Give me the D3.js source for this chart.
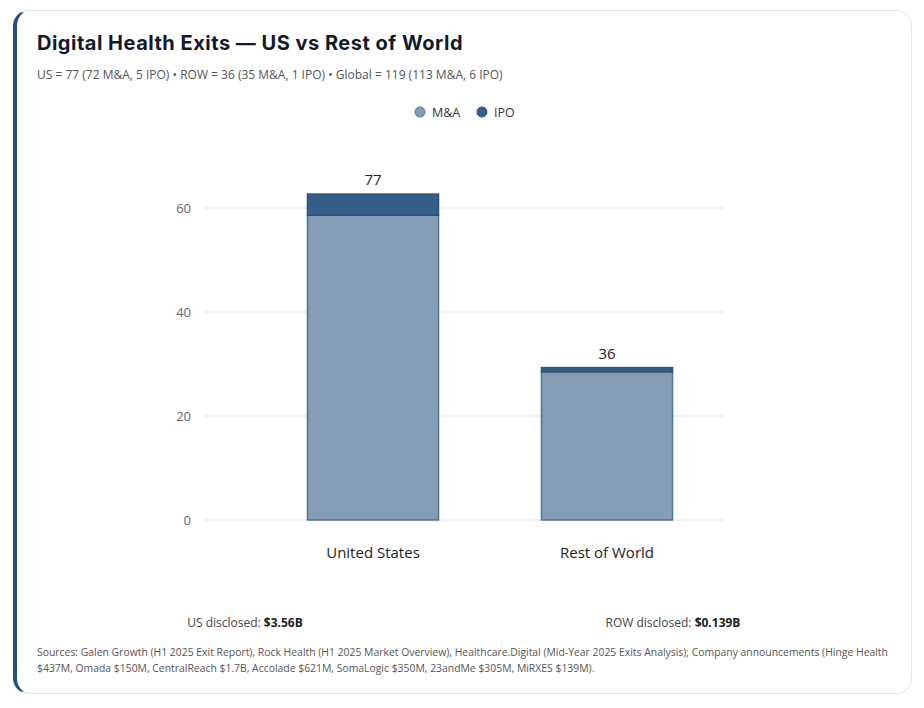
<!DOCTYPE html>
<html>
<head>
<meta charset="utf-8">
<script src="https://cdn.jsdelivr.net/npm/d3@7"></script>
<style>
  html, body { margin: 0; padding: 0; background: #fff; }
  body { width: 924px; height: 708px; position: relative; overflow: hidden; font-family: "Open Sans", sans-serif; }
  .card {
    position: absolute; left: 13px; top: 10px; width: 894px; height: 682px;
    border: 1px solid #e4e4e4; border-left: 4px solid #24507d; border-radius: 16px;
    background: #fff;
  }
  svg { position: absolute; left: 0; top: 0; }
</style>
</head>
<body>
<div class="card"></div>
<div id="viz"></div>
<script>
// chart data
const regions = ['United States', 'Rest of World'];
const mna = [72, 35];
const ipo = [5, 1];
const yTicks = [0, 20, 40, 60];
const series = ['M&A', 'IPO'];
const disclosed = [['US disclosed: ', '$3.56B'], ['ROW disclosed: ', '$0.139B']];

// bars were still growing when the reference was captured
const GROW = 0.814;

const COLORS = {
  'M&A': { fill: '#859eb5', stroke: '#4d7399' },
  'IPO': { fill: '#355f88', stroke: '#2b537c' }
};

const W = 924, H = 708;
const plot = { left: 256, right: 724, top: 156, bottom: 520, gridLeft: 204 };

const svg = d3.select('#viz').append('svg').attr('width', W).attr('height', H);

// header
svg.append('text')
  .attr('x', 37).attr('y', 50)
  .attr('font-family', 'Inter, sans-serif').attr('font-weight', 700).attr('font-size', 20)
  .attr('letter-spacing', 0.5)
  .attr('fill', '#111a2c')
  .text('Digital Health Exits — US vs Rest of World');

svg.append('text')
  .attr('x', 37).attr('y', 79)
  .attr('font-size', 12).attr('fill', '#555')
  .text('US = 77 (72 M&A, 5 IPO) • ROW = 36 (35 M&A, 1 IPO) • Global = 119 (113 M&A, 6 IPO)');

// legend
const legend = svg.append('g').selectAll('g')
  .data(series).enter().append('g')
  .attr('transform', (d, i) => `translate(${420 + i * 62}, 112)`);
legend.append('circle').attr('r', 5)
  .attr('fill', d => COLORS[d].fill).attr('stroke', d => COLORS[d].stroke).attr('stroke-width', 1);
legend.append('text').attr('x', 12).attr('y', 4.5)
  .attr('font-size', 12.5).attr('fill', '#333').text(d => d);

// scales
const x = d3.scaleBand().domain(regions).range([plot.left, plot.right]).paddingInner(0.44).paddingOuter(0.22);
const y = d3.scaleLinear().domain([0, 70]).range([plot.bottom, plot.top]);

// grid + y ticks
const grid = svg.append('g');
grid.selectAll('line').data(yTicks).enter().append('line')
  .attr('x1', plot.gridLeft).attr('x2', plot.right)
  .attr('y1', d => y(d)).attr('y2', d => y(d))
  .attr('stroke', '#ececec').attr('stroke-width', 1.5);
grid.selectAll('text').data(yTicks).enter().append('text')
  .attr('x', 191).attr('y', d => y(d) + 4.5)
  .attr('text-anchor', 'end').attr('font-size', 13).attr('fill', '#666')
  .text(d => d);

// stacked bars
const rows = regions.map((r, i) => ({ region: r, 'M&A': mna[i], 'IPO': ipo[i] }));
const stacked = d3.stack().keys(series)(rows);

svg.append('g').selectAll('g')
  .data(stacked).enter().append('g')
  .attr('fill', d => COLORS[d.key].fill)
  .attr('stroke', d => COLORS[d.key].stroke)
  .attr('stroke-width', 1.5)
  .selectAll('rect')
  .data(d => d).enter().append('rect')
  .attr('x', d => x(d.data.region))
  .attr('width', x.bandwidth())
  .attr('y', d => y(d[1] * GROW))
  .attr('height', d => y(d[0] * GROW) - y(d[1] * GROW));

// totals on top
svg.append('g').selectAll('text')
  .data(rows).enter().append('text')
  .attr('x', d => x(d.region) + x.bandwidth() / 2)
  .attr('y', d => y((d['M&A'] + d['IPO']) * GROW) - 9)
  .attr('text-anchor', 'middle').attr('font-size', 15).attr('fill', '#222')
  .text(d => d['M&A'] + d['IPO']);

// x labels
svg.append('g').selectAll('text')
  .data(regions).enter().append('text')
  .attr('x', d => x(d) + x.bandwidth() / 2)
  .attr('y', 558)
  .attr('text-anchor', 'middle').attr('font-size', 15).attr('fill', '#222')
  .text(d => d);

// disclosed values
const disc = svg.append('g').selectAll('text')
  .data(disclosed).enter().append('text')
  .attr('x', (d, i) => [245, 673][i]).attr('y', 627)
  .attr('text-anchor', 'middle').attr('font-size', 12).attr('fill', '#444');
disc.append('tspan').text(d => d[0]);
disc.append('tspan').attr('font-weight', 700).attr('fill', '#222').text(d => d[1]);

// sources
const sources = [
  'Sources: Galen Growth (H1 2025 Exit Report), Rock Health (H1 2025 Market Overview), Healthcare.Digital (Mid-Year 2025 Exits Analysis); Company announcements (Hinge Health',
  '$437M, Omada $150M, CentralReach $1.7B, Accolade $621M, SomaLogic $350M, 23andMe $305M, MiRXES $139M).'
];
svg.append('g').selectAll('text')
  .data(sources).enter().append('text')
  .attr('x', 37).attr('y', (d, i) => 656 + i * 16)
  .attr('font-size', 10.4).attr('fill', '#555')
  .text(d => d);
</script>
</body>
</html>
